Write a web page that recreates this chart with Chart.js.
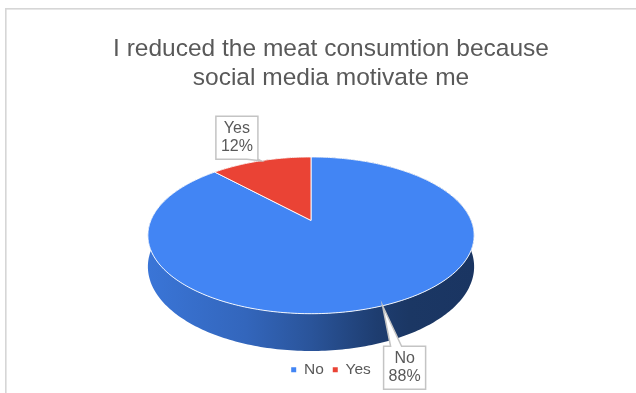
<!DOCTYPE html>
<html>
<head>
<meta charset="utf-8">
<script src="https://cdn.jsdelivr.net/npm/chart.js@4"></script>
<style>
  html, body { margin: 0; padding: 0; background: #ffffff; }
  #wrap { width: 636px; height: 393px; position: relative; overflow: hidden; }
</style>
</head>
<body>
<div id="wrap"><canvas id="c" width="636" height="393"></canvas></div>
<script>
// ---- data ----
const categories = ['No', 'Yes'];
const shares = [88, 12];
const sliceColors = ['#4285f4', '#ea4335'];
const titleLines = ['I reduced the meat consumtion because', 'social media motivate me'];

// ---- look ----
const FONT = "'Liberation Sans', Arial, sans-serif";
const TEXT_COLOR = '#595959';
const PERSPECTIVE = 0.19;   // how much the near rim is magnified
const ASPECT = 2.12;        // horizontal / vertical radius of the tilted disc
const WALL = 0.40;          // wall height relative to the vertical radius
const PIE_SHIFT_X = -20;    // the plot sits a little left of the title
// shading of the pie wall from left to right (multiplier on slice colour)
const WALL_SHADE = [[0, 0.88], [0.3, 0.77], [0.5, 0.63], [0.7, 0.46], [0.8, 0.41], [1, 0.40]];
// where each data-label box sits relative to its rim anchor
const LABEL_OFFSETS = [[22, 62], [-24, -23]];

function hexToRgb(hex) {
  const n = parseInt(hex.slice(1), 16);
  return [(n >> 16) & 255, (n >> 8) & 255, n & 255];
}

function geometry(chart) {
  const area = chart.chartArea;
  const arc = chart.getDatasetMeta(0).data[0];
  const k = PERSPECTIVE;
  const span = 1 / (1 + k) + (1 + WALL) / (1 - k);
  const ry = (area.bottom - area.top - 2) / span;
  return {
    cx: arc.x + PIE_SHIFT_X,
    cy: area.top + ry / (1 + k),
    rx: ry * ASPECT,
    ry: ry,
    drop: ry * WALL
  };
}

// point on the tilted disc: angle in chart space, r in 0..1, d = drop below the top face
function project(g, angle, r, d) {
  const X = r * Math.cos(angle), Y = r * Math.sin(angle);
  const w = 1 - PERSPECTIVE * Y;
  return { x: g.cx + g.rx * X / w, y: g.cy + (g.ry * Y + d) / w };
}

function arcPoints(g, a0, a1, d) {
  const pts = [];
  const n = Math.max(2, Math.ceil(Math.abs(a1 - a0) / (Math.PI / 180)));
  for (let i = 0; i <= n; i++) {
    pts.push(project(g, a0 + (a1 - a0) * i / n, 1, d));
  }
  return pts;
}

const frame = {
  id: 'frame',
  beforeDraw(chart) {
    const ctx = chart.ctx;
    ctx.save();
    ctx.strokeStyle = '#d6d6d6';
    ctx.lineWidth = 1.6;
    ctx.strokeRect(5.8, 8.8, 700, 500);
    ctx.restore();
  }
};

const pie3d = {
  id: 'pie3d',
  beforeDatasetsDraw(chart) {
    const ctx = chart.ctx;
    const meta = chart.getDatasetMeta(0);
    const g = geometry(chart);
    const left = g.cx - g.rx * 1.02, right = g.cx + g.rx * 1.02;
    ctx.save();

    // side walls
    meta.data.forEach((arc) => {
      const base = hexToRgb(arc.options.backgroundColor);
      const grad = ctx.createLinearGradient(left, 0, right, 0);
      WALL_SHADE.forEach(([t, f]) => {
        grad.addColorStop(t, `rgb(${Math.round(base[0] * f)},${Math.round(base[1] * f)},${Math.round(base[2] * f)})`);
      });
      const top = arcPoints(g, arc.startAngle, arc.endAngle, 0);
      const bottom = arcPoints(g, arc.startAngle, arc.endAngle, g.drop).reverse();
      ctx.beginPath();
      top.concat(bottom).forEach((p, j) => j ? ctx.lineTo(p.x, p.y) : ctx.moveTo(p.x, p.y));
      ctx.closePath();
      ctx.fillStyle = grad;
      ctx.fill();
    });

    // top faces
    meta.data.forEach((arc) => {
      const c = project(g, 0, 0, 0);
      ctx.beginPath();
      ctx.moveTo(c.x, c.y);
      arcPoints(g, arc.startAngle, arc.endAngle, 0).forEach(p => ctx.lineTo(p.x, p.y));
      ctx.closePath();
      ctx.fillStyle = arc.options.backgroundColor;
      ctx.fill();
      ctx.strokeStyle = 'rgba(255,255,255,0.9)';
      ctx.lineWidth = 1;
      ctx.lineJoin = 'round';
      ctx.stroke();
    });

    ctx.restore();
    return false;
  }
};

const callouts = {
  id: 'callouts',
  afterDraw(chart) {
    const ctx = chart.ctx;
    const meta = chart.getDatasetMeta(0);
    const g = geometry(chart);
    const values = chart.data.datasets[0].data;
    const total = values.reduce((a, b) => a + b, 0);
    const size = 16, lh = 18.5;
    ctx.save();
    ctx.font = `${size}px ${FONT}`;
    meta.data.forEach((arc, i) => {
      const mid = (arc.startAngle + arc.endAngle) / 2;
      const anchor = project(g, mid, 1, 0);
      const lines = [chart.data.labels[i], Math.round(values[i] / total * 100) + '%'];
      const w = Math.max(...lines.map(s => ctx.measureText(s).width)) + 10;
      const h = lines.length * lh + 6;
      const bx = anchor.x + LABEL_OFFSETS[i][0] - w / 2;
      const by = anchor.y + LABEL_OFFSETS[i][1] - h / 2;
      const below = anchor.y > by + h;
      const half = 5.5;
      const baseC = Math.min(Math.max(anchor.x, bx + 12.5), bx + w - half);
      ctx.beginPath();
      if (below) {
        ctx.moveTo(bx, by);
        ctx.lineTo(bx + w, by);
        ctx.lineTo(bx + w, by + h);
        ctx.lineTo(Math.min(baseC + half, bx + w), by + h);
        ctx.lineTo(anchor.x, anchor.y);
        ctx.lineTo(baseC - half, by + h);
        ctx.lineTo(bx, by + h);
      } else {
        ctx.moveTo(bx, by);
        ctx.lineTo(baseC - half, by);
        ctx.lineTo(anchor.x, anchor.y);
        ctx.lineTo(baseC + half, by);
        ctx.lineTo(bx + w, by);
        ctx.lineTo(bx + w, by + h);
        ctx.lineTo(bx, by + h);
      }
      ctx.closePath();
      ctx.fillStyle = '#ffffff';
      ctx.fill();
      ctx.strokeStyle = '#c4c4c4';
      ctx.lineWidth = 1.5;
      ctx.lineJoin = 'miter';
      ctx.stroke();
      ctx.fillStyle = TEXT_COLOR;
      ctx.textAlign = 'center';
      ctx.textBaseline = 'middle';
      lines.forEach((s, j) => {
        ctx.fillText(s, bx + w / 2, by + h / 2 + (j - (lines.length - 1) / 2) * lh);
      });
    });
    ctx.restore();
  }
};

new Chart(document.getElementById('c'), {
  type: 'pie',
  data: {
    labels: categories,
    datasets: [{ data: shares, backgroundColor: sliceColors, borderWidth: 0 }]
  },
  options: {
    responsive: false,
    animation: false,
    events: [],
    devicePixelRatio: 1,
    layout: { padding: { left: 26, right: 0, top: 0, bottom: 5.5 } },
    plugins: {
      title: {
        display: true,
        text: titleLines,
        color: TEXT_COLOR,
        font: { family: FONT, size: 24.5, weight: 'normal', lineHeight: 1.15 },
        padding: { top: 35.6, bottom: 65 }
      },
      legend: {
        position: 'bottom',
        labels: {
          boxWidth: 5,
          boxHeight: 5,
          padding: 9,
          color: TEXT_COLOR,
          font: { family: FONT, size: 15.5 }
        }
      },
      tooltip: { enabled: false }
    }
  },
  plugins: [frame, pie3d, callouts]
});
</script>
</body>
</html>
